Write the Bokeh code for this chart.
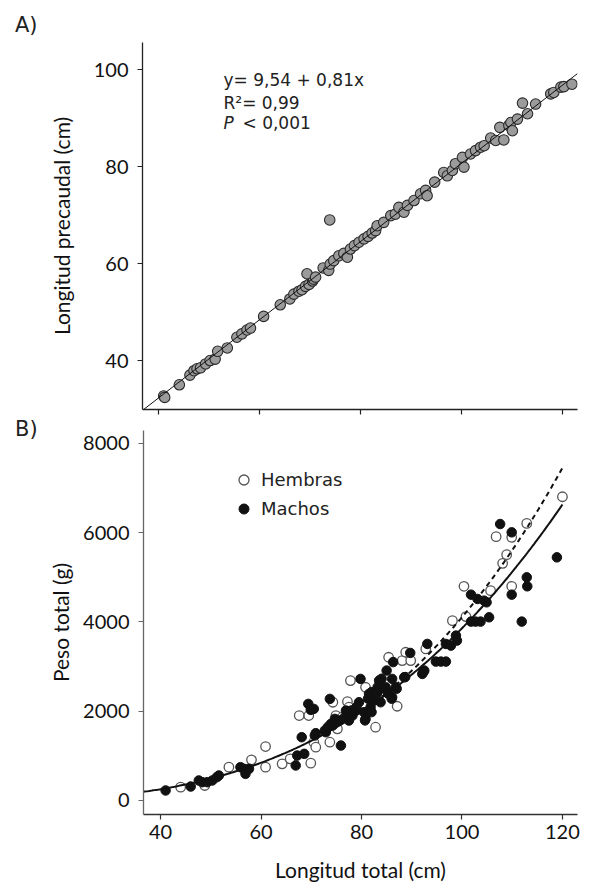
from bokeh.plotting import figure
from bokeh.layouts import column, row
from bokeh.models import Range1d, Label, Legend, LegendItem, Div, CustomJSTickFormatter
from bokeh.embed import file_html
from bokeh.resources import INLINE
import numpy as np

# ---------------- Panel A data: total length vs precaudal length (cm)
lt_a = [41.0, 41.2, 44.1, 46.2, 47.0, 47.6, 48.3, 49.3, 50.2, 51.2, 51.7, 53.6,
        55.5, 56.5, 57.5, 58.2, 60.8, 64.1, 66.0, 66.8, 67.8, 68.4, 69.1, 69.8,
        70.5, 70.7, 69.4, 71.1, 73.9, 72.6, 73.7, 74.0, 74.7, 75.7, 76.7, 77.4,
        78.0, 78.8, 79.7, 80.7, 81.5, 82.3, 83.0, 83.3, 84.6, 86.0, 86.9, 87.6,
        88.6, 89.3, 90.6, 91.9, 92.9, 93.2, 94.7, 96.5, 97.2, 98.2, 98.8, 100.2,
        100.5, 101.8, 102.8, 103.8, 104.5, 105.8, 106.8, 107.6, 108.4, 109.4,
        109.8, 110.1, 111.1, 112.1, 113.1, 114.7, 117.7, 118.3, 119.7, 120.3, 121.9]
lp_a = [32.7, 32.4, 35.0, 37.0, 37.9, 38.3, 38.5, 39.3, 40.0, 40.3, 41.9, 42.6,
        44.8, 45.5, 46.3, 46.7, 49.1, 51.5, 52.7, 53.7, 54.3, 54.6, 55.3, 55.7,
        56.4, 56.8, 57.9, 57.2, 69.0, 59.1, 58.6, 59.9, 60.6, 61.6, 62.1, 61.3,
        63.0, 63.7, 64.4, 65.1, 65.6, 66.3, 66.8, 67.8, 68.5, 69.9, 70.2, 71.6,
        70.6, 72.0, 73.0, 74.4, 75.1, 74.0, 76.8, 78.8, 78.1, 79.2, 80.6, 81.9,
        79.9, 82.6, 83.3, 84.0, 84.3, 85.9, 85.4, 88.1, 85.5, 88.5,
        89.1, 87.4, 89.8, 93.1, 90.9, 92.9, 95.0, 95.3, 96.4, 96.5, 97.0]
fit_a_intercept = 0.06
fit_a_slope = 0.806

# ---------------- Panel B data: total length (cm) vs total weight (g)
hem_lt = [44.0, 48.8, 53.6, 58.1, 60.9, 60.9, 64.2, 65.8, 67.6, 69.5, 69.9, 70.5,
          70.9, 73.7, 74.3, 74.9, 75.2, 76.2, 77.2, 77.5, 77.8, 80.8, 81.8, 82.8,
          83.2, 85.4, 87.1, 88.1, 88.8, 89.8, 92.8, 98.1, 100.4, 100.8, 105.7,
          106.8, 108.1, 108.9, 109.9, 109.9, 112.9, 120.0]
hem_pt = [299, 336, 746, 910, 1209, 746, 821, 933, 1903, 1903, 836, 1306,
          1194, 1306, 2201, 1903, 1605, 1866, 2216, 2090, 2687, 2537, 2276, 1642,
          2537, 3209, 2112, 3134, 3321, 3134, 3396, 4030, 4799, 4120, 4702,
          5911, 5314, 5508, 5896, 4799, 6209, 6806]
mac_lt = [41.0, 46.0, 47.6, 48.3, 49.3, 50.3, 51.2, 51.6, 55.9, 56.6, 56.9, 57.6,
          66.9, 67.2, 68.1, 68.6, 69.4, 69.9, 70.5, 70.9, 72.9, 73.7, 73.9, 74.7,
          75.9, 76.9, 77.5, 78.2, 78.8, 79.5, 79.8, 80.5, 80.8, 81.5, 81.8, 82.5,
          83.2, 83.5, 83.8, 84.8, 85.0, 86.1, 86.1, 86.8, 88.5, 89.7, 92.1, 92.5,
          93.1, 94.8, 95.8, 96.8, 96.8, 97.8, 98.8, 99.0, 101.8, 101.8, 102.7, 103.7,
          103.1, 104.4, 104.9, 105.4, 107.6, 109.9, 109.9, 111.9, 112.9, 113.0, 118.9,
          76.7, 75.7, 74.3, 73.3, 72.7, 70.7, 80.7, 82.0, 84.7, 85.3, 83.3, 79.0,
          78.0, 81.3, 82.0, 83.0, 86.0, 87.0, 88.7, 92.3, 86.3, 84.0]
mac_pt = [224, 313, 448, 410, 410, 448, 522, 560, 746, 709, 597, 709,
          784, 1007, 1418, 1045, 2164, 2030, 2052, 1508, 1530, 2276, 1716, 1828,
          1231, 2015, 1791, 1903, 2015, 2201, 2724, 1978, 1828, 2388, 2090, 2239,
          2425, 2687, 2201, 2537, 2911, 2724, 2314, 2537, 2761, 3306, 2836, 2911,
          3508, 3112, 3112, 3112, 3508, 3470, 3694, 3582, 4612, 4008, 4008, 4008,
          4515, 4478, 4440, 4105, 6194, 6008, 4612, 4008, 5000, 4799, 5448,
          1868, 1794, 1681, 1644, 1569, 1457, 1794, 1980, 2504, 2392, 2540, 2092,
          2018, 2280, 2429, 2392, 2280, 2504, 2765, 2877, 3101, 2728]
fit_all_a, fit_all_b = 0.00443, 2.97     # solid curve
fit_hem_a, fit_hem_b = 0.001184, 3.27    # dashed curve
fit_hem_start = 84.0

x_ticks = [40, 60, 80, 100, 120]
ya_ticks = [40, 60, 80, 100]
yb_ticks = [0, 2000, 4000, 6000, 8000]

TICK_FONT = "Lato"
ANN_FONT = "DejaVu Sans"
PANEL_W = 40


def style(p, ycol="#222", xcol="#222"):
    p.grid.visible = False
    p.outline_line_color = None
    for ax in p.axis:
        ax.major_tick_in = 0
        ax.major_tick_out = 5
        ax.minor_tick_line_color = None
        ax.axis_line_width = 1.3
        ax.major_tick_line_width = 1.2
        ax.major_label_text_font = TICK_FONT
        ax.major_label_text_font_size = "20px"
        ax.major_label_text_color = "#111"
        ax.axis_label_text_font = TICK_FONT
        ax.axis_label_text_font_style = "normal"
        ax.axis_label_text_font_size = "21px"
        ax.axis_label_text_color = "#111"
    p.yaxis.axis_line_color = ycol
    p.yaxis.major_tick_line_color = ycol
    p.xaxis.axis_line_color = xcol
    p.xaxis.major_tick_line_color = xcol


def panel_tag(txt, pad_top, h):
    return Div(text=txt, width=PANEL_W, height=h, margin=(0, 0, 0, 0),
               styles={"font-family": "DejaVu Sans", "font-size": "21px",
                       "line-height": "1", "color": "#222",
                       "padding-left": "15px", "padding-top": f"{pad_top}px",
                       "box-sizing": "border-box"})


# ---------------- Panel A
xa0, xa1 = 36.8, 123.0
ya0, ya1 = 29.9, 105.6
pa = figure(width=582 - PANEL_W, height=418, x_range=Range1d(xa0, xa1),
            y_range=Range1d(ya0, ya1), output_backend="svg", toolbar_location=None,
            min_border_left=142 - PANEL_W, min_border_right=5, min_border_top=42,
            min_border_bottom=9)
style(pa)
pa.xaxis.ticker = x_ticks
pa.yaxis.ticker = ya_ticks
pa.xaxis.formatter = CustomJSTickFormatter(code="return ''")
pa.xaxis.major_label_text_font_size = "0px"
pa.xaxis.major_label_standoff = 0
pa.yaxis.major_label_standoff = 9
pa.yaxis.axis_label = "Longitud precaudal (cm)"
pa.yaxis.axis_label_standoff = 17

pa.scatter(lt_a, lp_a, size=10.5, marker="circle", fill_color="#9b9b9b",
           line_color="#2a2a2a", line_width=1.1)
line_x = np.array([xa0, xa1])
pa.line(line_x, fit_a_intercept + fit_a_slope * line_x, line_color="#111", line_width=1)

for txt, dy in [("y= 9,54 + 0,81x", -37), ("R\u00b2= 0,99", -60)]:
    pa.add_layout(Label(x=xa0, y=ya1, x_offset=81, y_offset=dy, text=txt,
                        text_font=ANN_FONT, text_font_size="17px", text_color="#222",
                        text_baseline="alphabetic"))
pa.add_layout(Label(x=xa0, y=ya1, x_offset=81, y_offset=-80, text="P",
                    text_font=ANN_FONT, text_font_style="italic", text_font_size="17px",
                    text_color="#222", text_baseline="alphabetic"))
pa.add_layout(Label(x=xa0, y=ya1, x_offset=100, y_offset=-80, text="< 0,001",
                    text_font=ANN_FONT, text_font_size="17px", text_color="#222",
                    text_baseline="alphabetic"))

# ---------------- Panel B
xb0, xb1 = 36.6, 123.0
yb0, yb1 = -314, 8290
pb = figure(width=582 - PANEL_W, height=466, x_range=Range1d(xb0, xb1),
            y_range=Range1d(yb0, yb1), output_backend="svg", toolbar_location=None,
            min_border_left=143 - PANEL_W, min_border_right=5, min_border_top=12,
            min_border_bottom=70)
style(pb, ycol="#666", xcol="#333")
pb.xaxis.ticker = x_ticks
pb.yaxis.ticker = yb_ticks
pb.xaxis.major_label_standoff = 5
pb.yaxis.major_label_standoff = 9
pb.xaxis.axis_label = "Longitud total (cm)"
pb.xaxis.axis_label_standoff = 15
pb.yaxis.axis_label = "Peso total (g)"
pb.yaxis.axis_label_standoff = 7

r_h = pb.scatter(hem_lt, hem_pt, size=9.5, marker="circle", fill_color="white",
                 line_color="#555", line_width=1.3)
r_m = pb.scatter(mac_lt, mac_pt, size=9.5, marker="circle", fill_color="#111",
                 line_color="#111", line_width=1)

L_all = np.linspace(xb0, 120.0, 300)
pb.line(L_all, fit_all_a * L_all ** fit_all_b, line_color="#111", line_width=2)
L_hem = np.linspace(fit_hem_start, 120.0, 200)
pb.line(L_hem, fit_hem_a * L_hem ** fit_hem_b, line_color="#111", line_width=2,
        line_dash="5 4")

legend = Legend(items=[LegendItem(label="Hembras", renderers=[r_h]),
                       LegendItem(label="Machos", renderers=[r_m])],
                location=(88, 293), padding=0, margin=0, spacing=4,
                glyph_width=25, glyph_height=25, label_standoff=5, label_height=20,
                label_text_font=ANN_FONT, label_text_font_size="18px",
                label_text_color="#222", border_line_color=None,
                background_fill_alpha=0)
pb.add_layout(legend)

tag_a = panel_tag("A)", 15, 418)
tag_b = panel_tag("B)", 1, 466)

layout = column(row(tag_a, pa, spacing=0), row(tag_b, pb, spacing=0), spacing=0)
open("out.html", "w").write(file_html(layout, INLINE))
